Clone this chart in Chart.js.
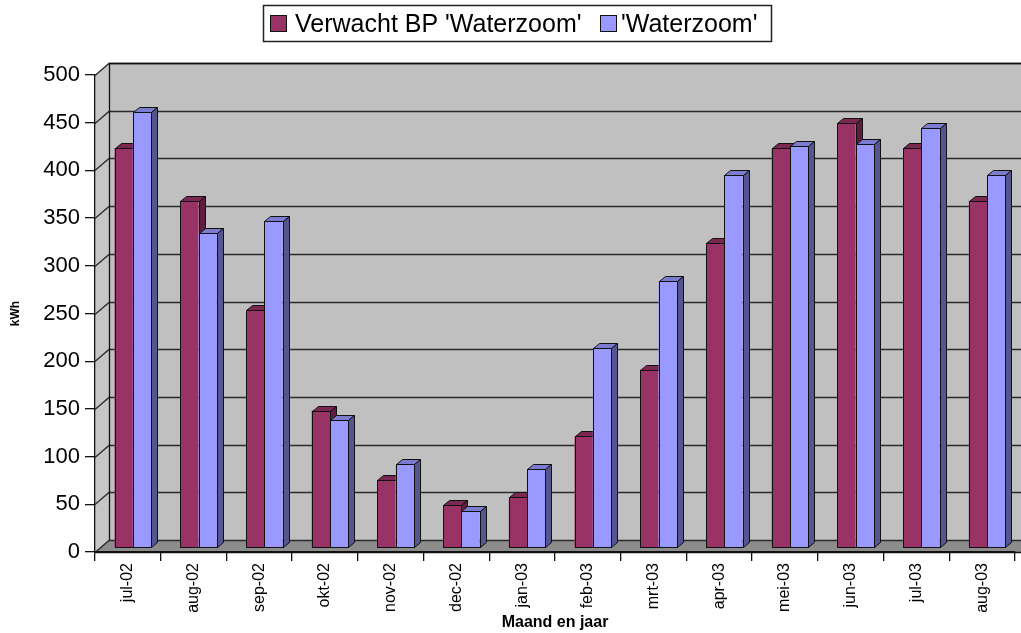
<!DOCTYPE html>
<html>
<head>
<meta charset="utf-8">
<title>Verwacht BP 'Waterzoom' / 'Waterzoom'</title>
<script src="https://cdn.jsdelivr.net/npm/chart.js@4/dist/chart.umd.min.js"></script>
<style>
  html, body { margin: 0; padding: 0; background: #ffffff; }
  canvas { display: block; }
</style>
</head>
<body>
<canvas id="chart" width="1021" height="633"></canvas>
<script>
// Monthly production in kWh
const months = ['jul-02', 'aug-02', 'sep-02', 'okt-02', 'nov-02', 'dec-02', 'jan-03',
                'feb-03', 'mrt-03', 'apr-03', 'mei-03', 'jun-03', 'jul-03', 'aug-03'];
const expected = [419, 364, 249, 144, 71, 45, 53, 117, 187, 320, 419, 445, 419, 364];
const measured = [457, 330, 343, 134, 88, 39, 83, 210, 280, 391, 421, 423, 440, 391];
const seriesNames = ["Verwacht BP 'Waterzoom'", "'Waterzoom'"];
const yMax = 500;
const yStep = 50;

const FONT = '"Liberation Sans", Arial, Helvetica, sans-serif';

// 3D look: wall depth and bar depth offsets
const WALL_DX = 14, WALL_DY = -12;
const BAR_SHIFT_X = 5, BAR_SHIFT_Y = -4;
const BAR_DX = 6, BAR_DY = -5;

const faceColors = [
  { front: '#993366', top: '#7a2852', side: '#5c1d3e' },
  { front: '#9999ff', top: '#7b7bd0', side: '#55558f' }
];

// Back wall, side wall, floor and gridlines
const wallsPlugin = {
  id: 'walls',
  beforeDraw(chart) {
    const ctx = chart.ctx;
    const y = chart.scales.y;
    const area = chart.chartArea;
    const W = chart.width;
    const x0 = area.left, yb = y.getPixelForValue(0), yt = y.getPixelForValue(yMax);
    ctx.save();
    ctx.lineJoin = 'miter';
    // back wall
    ctx.fillStyle = '#c0c0c0';
    ctx.fillRect(x0 + WALL_DX, yt + WALL_DY, W - x0 - WALL_DX + 10, yb - yt);
    // side wall
    ctx.beginPath();
    ctx.moveTo(x0, yt);
    ctx.lineTo(x0 + WALL_DX, yt + WALL_DY);
    ctx.lineTo(x0 + WALL_DX, yb + WALL_DY);
    ctx.lineTo(x0, yb);
    ctx.closePath();
    ctx.fillStyle = '#c6c6c6';
    ctx.fill();
    // floor
    ctx.beginPath();
    ctx.moveTo(x0, yb);
    ctx.lineTo(x0 + WALL_DX, yb + WALL_DY);
    ctx.lineTo(W + 20, yb + WALL_DY);
    ctx.lineTo(W + 20, yb);
    ctx.closePath();
    ctx.fillStyle = '#8c8c8c';
    ctx.fill();
    // gridlines across side and back wall
    ctx.strokeStyle = '#2a2a2a';
    ctx.lineWidth = 1.3;
    y.ticks.forEach(t => {
      const py = Math.round(y.getPixelForValue(t.value)) + 0.5;
      ctx.beginPath();
      ctx.moveTo(x0, py);
      ctx.lineTo(x0 + WALL_DX, py + WALL_DY);
      ctx.lineTo(W + 20, py + WALL_DY);
      ctx.stroke();
    });
    // wall edges
    ctx.strokeStyle = '#111';
    ctx.lineWidth = 1.3;
    ctx.beginPath();
    ctx.moveTo(x0 + WALL_DX + 0.5, yb + WALL_DY);
    ctx.lineTo(x0 + WALL_DX + 0.5, yt + WALL_DY + 0.5);
    ctx.lineTo(W + 20, yt + WALL_DY + 0.5);
    ctx.stroke();
    ctx.beginPath();
    ctx.moveTo(x0, Math.round(yb) + 0.5);
    ctx.lineTo(W + 20, Math.round(yb) + 0.5);
    ctx.stroke();
    ctx.restore();
  },
  // Bars with top and side faces, drawn category by category so each
  // neighbouring bar covers the hidden part of the previous one
  beforeDatasetsDraw(chart) {
    const ctx = chart.ctx;
    const metas = [chart.getDatasetMeta(0), chart.getDatasetMeta(1)];
    ctx.save();
    ctx.translate(BAR_SHIFT_X, BAR_SHIFT_Y);
    ctx.lineWidth = 1;
    ctx.strokeStyle = '#111';
    ctx.lineJoin = 'miter';
    for (let j = 0; j < months.length; j++) {
      metas.forEach((meta, i) => {
        const el = meta.data[j];
        el.draw(ctx);
        const { x, y, base, width } = el.getProps(['x', 'y', 'base', 'width'], true);
        const l = Math.round(x - width / 2) + 0.5, r = Math.round(x + width / 2) + 0.5;
        const top = Math.round(y) + 0.5, bot = Math.round(base) + 0.5;
        // top face
        ctx.beginPath();
        ctx.moveTo(l, top);
        ctx.lineTo(l + BAR_DX, top + BAR_DY);
        ctx.lineTo(r + BAR_DX, top + BAR_DY);
        ctx.lineTo(r, top);
        ctx.closePath();
        ctx.fillStyle = faceColors[i].top;
        ctx.fill();
        ctx.stroke();
        // side face
        ctx.beginPath();
        ctx.moveTo(r, top);
        ctx.lineTo(r + BAR_DX, top + BAR_DY);
        ctx.lineTo(r + BAR_DX, bot + BAR_DY);
        ctx.lineTo(r, bot);
        ctx.closePath();
        ctx.fillStyle = faceColors[i].side;
        ctx.fill();
        ctx.stroke();
        // front outline
        ctx.strokeRect(l, top, r - l, bot - top);
      });
    }
    ctx.restore();
    return false;
  },
  // Boxed legend above the plot
  afterDraw(chart) {
    const ctx = chart.ctx;
    ctx.save();
    ctx.fillStyle = '#ffffff';
    ctx.fillRect(263.5, 5.5, 508, 36);
    ctx.strokeStyle = '#222';
    ctx.lineWidth = 1.5;
    ctx.strokeRect(263.5, 5.5, 508, 36);
    ctx.font = '25px ' + FONT;
    ctx.textBaseline = 'alphabetic';
    ctx.textAlign = 'left';
    const items = [
      { box: 270, text: 295 },
      { box: 600, text: 621 }
    ];
    items.forEach((it, i) => {
      ctx.fillStyle = faceColors[i].front;
      ctx.fillRect(it.box + 0.5, 15.5, 16, 16);
      ctx.strokeStyle = '#111';
      ctx.lineWidth = 1;
      ctx.strokeRect(it.box + 0.5, 15.5, 16, 16);
      ctx.fillStyle = '#000';
      ctx.fillText(seriesNames[i], it.text, 32);
    });
    ctx.restore();
  }
};

new Chart(document.getElementById('chart'), {
  type: 'bar',
  data: {
    labels: months,
    datasets: [
      {
        label: seriesNames[0],
        data: expected,
        backgroundColor: faceColors[0].front,
        borderColor: '#111',
        borderWidth: 0,
        borderSkipped: false,
        barPercentage: 1,
        categoryPercentage: 0.557
      },
      {
        label: seriesNames[1],
        data: measured,
        backgroundColor: faceColors[1].front,
        borderColor: '#111',
        borderWidth: 0,
        borderSkipped: false,
        barPercentage: 1,
        categoryPercentage: 0.557
      }
    ]
  },
  options: {
    responsive: false,
    devicePixelRatio: 1,
    animation: false,
    layout: { padding: { top: 75, right: 6, bottom: 0, left: 0 } },
    plugins: {
      legend: { display: false },
      tooltip: { enabled: false }
    },
    scales: {
      x: {
        type: 'category',
        offset: true,
        grid: {
          display: true,
          offset: true,
          drawOnChartArea: false,
          drawTicks: true,
          tickLength: 9,
          color: '#111',
          lineWidth: 1.3
        },
        border: { display: true, color: '#111', width: 1.3 },
        ticks: {
          autoSkip: false,
          minRotation: 90,
          maxRotation: 90,
          padding: 2,
          color: '#000',
          font: { family: FONT, size: 16 }
        },
        title: {
          display: true,
          text: 'Maand en jaar',
          color: '#000',
          font: { family: FONT, size: 16, weight: 'bold', lineHeight: 1.25 },
          padding: { top: 0, bottom: 0 }
        },
        afterFit(scale) { scale.height = 81; }
      },
      y: {
        min: 0,
        max: yMax,
        grid: {
          display: true,
          drawOnChartArea: false,
          drawTicks: true,
          tickLength: 10,
          color: '#111',
          lineWidth: 1.3
        },
        border: { display: true, color: '#111', width: 1.3 },
        ticks: {
          stepSize: yStep,
          padding: 5,
          color: '#000',
          font: { family: FONT, size: 22 }
        },
        title: {
          display: true,
          text: 'kWh',
          color: '#000',
          font: { family: FONT, size: 12, weight: 'bold', lineHeight: 1.2 },
          padding: { top: 8, bottom: 0 }
        },
        afterFit(scale) { scale.width = 95; }
      }
    }
  },
  plugins: [wallsPlugin]
});
</script>
</body>
</html>
